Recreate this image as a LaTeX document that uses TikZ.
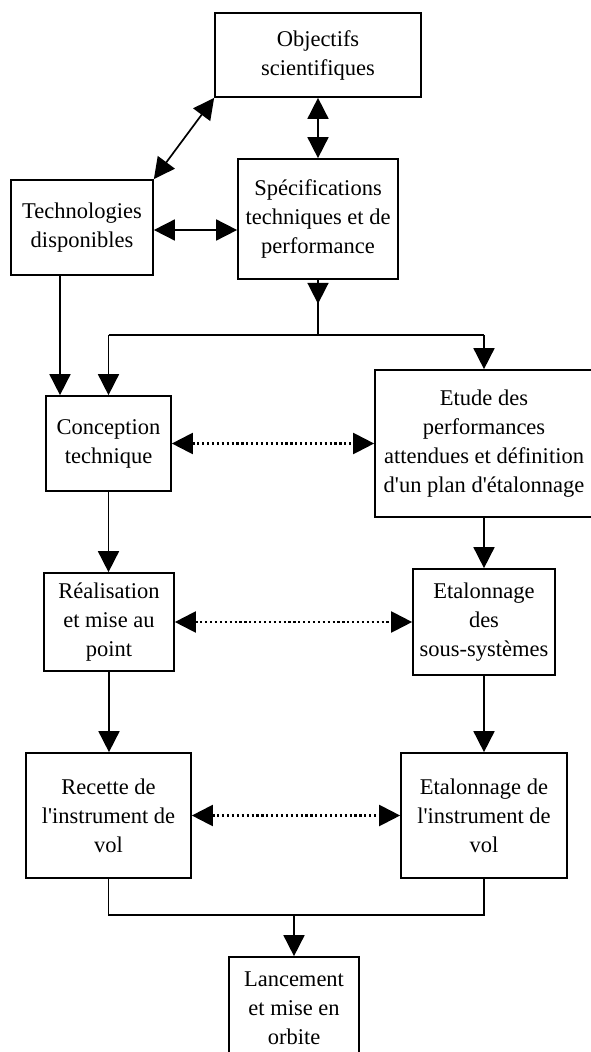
\documentclass[tikz,border=0pt]{standalone}
\usepackage{fontspec}
\setmainfont{Liberation Serif}[Ligatures=TeXOff]
\usetikzlibrary{arrows.meta}
\begin{document}
\begin{tikzpicture}[x=1pt,y=-1pt,
  box/.style={draw, line width=1.7pt, inner sep=0pt, align=center, font=\fontsize{22.5}{29}\selectfont},
  conn/.style={line width=1.7pt},
  tip/.style={Triangle[length=21pt,width=21pt]},
  arr/.style={conn, -{Triangle[length=21pt,width=21pt]}},
  darr/.style={conn, {Triangle[length=21pt,width=21pt]}-{Triangle[length=21pt,width=21pt]}},
  dotline/.style={darr, line width=2.2pt, dash pattern=on 2.2pt off 2.7pt}]
\useasboundingbox (0,0) rectangle (591,1052);
\clip (0,0) rectangle (591,1052);
\node[box, minimum width=206pt, minimum height=84pt] (obj) at (318,55) {Objectifs\\scientifiques};
\node[box, minimum width=142pt, minimum height=95pt] (tech) at (82,227.5) {Technologies\\disponibles};
\node[box, minimum width=160pt, minimum height=120pt] (spec) at (318,219) {Spécifications\\techniques et de\\performance};
\node[box, minimum width=125pt, minimum height=95pt] (conc) at (108.5,443.5) {Conception\\technique};
\node[box, minimum width=218pt, minimum height=147pt] (etude) at (484,443.5) {Etude des\\performances\\attendues et définition\\d'un plan d'étalonnage};
\node[box, minimum width=130pt, minimum height=98pt] (real) at (109,622) {Réalisation\\et mise au\\point};
\node[box, minimum width=142pt, minimum height=106pt] (ess) at (484,622) {Etalonnage\\des\\sous-systèmes};
\node[box, minimum width=165pt, minimum height=125pt] (rec) at (108.5,815.5) {Recette de\\l'instrument de\\vol};
\node[box, minimum width=166pt, minimum height=125pt] (eti) at (484,815.5) {Etalonnage de\\l'instrument de\\vol};
\node[box, minimum width=130pt, minimum height=102pt] (lanc) at (294,1008) {Lancement\\et mise en\\orbite};
\coordinate (jM) at (318,335);
\coordinate (jL) at (108.5,335);
\coordinate (jR) at (484,335);
\coordinate (jB) at (294,915);
\draw[darr] (tech.north east) -- (obj.south west);
\draw[darr] (obj.south) -- (spec.north);
\draw[darr] ([yshift=-2.5pt]tech.east) -- ([yshift=-2.5pt]tech.east -| spec.west);
\draw[conn] (spec.south) -- (jM);
\draw[arr] (spec.south) -- ++(0,24);
\draw[conn] (jL) -- (jR);
\draw[arr] (jL) -- (conc.north);
\draw[arr] (jR) -- (etude.north);
\draw[arr] ([xshift=-22pt]tech.south) -- ([xshift=-22pt]tech.south |- conc.north);
\draw[dotline] (conc.east) -- (conc.east -| etude.west);
\draw[dotline] (real.east) -- (real.east -| ess.west);
\draw[dotline] (rec.east) -- (rec.east -| eti.west);
\draw[arr] (conc.south) -- (conc.south |- real.north);
\draw[arr] (etude.south) -- (ess.north);
\draw[arr] (real.south) -- (real.south |- rec.north);
\draw[arr] (ess.south) -- (eti.north);
\draw[conn] (rec.south) |- (jB) -| (eti.south);
\draw[arr] (jB) -- (lanc.north);
\end{tikzpicture}
\end{document}
